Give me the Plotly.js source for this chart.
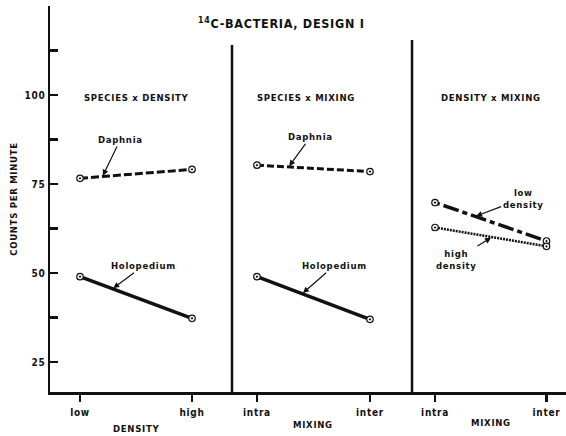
<!DOCTYPE html>
<html>
<head>
<meta charset="utf-8">
<script src="https://cdn.plot.ly/plotly-3.0.1.min.js"></script>
<style>
html,body{margin:0;padding:0;background:#fff;}
#chart{width:566px;height:436px;}
svg text{letter-spacing:0.7px;}
</style>
</head>
<body>
<div id="chart"></div>
<script>
// ---- data ----
const densityLevels = ['low', 'high'];
const mixingLevels = ['intra', 'inter'];
const yTickVals = [25, 37.5, 50, 62.5, 75, 87.5, 100, 112.5];
const yTickText = ['25', ' ', '50', ' ', '75', ' ', '100', ' '];

// Panel 1: Species x Density
const p1Daphnia = [76.6, 79.1];
const p1Holopedium = [49.0, 37.3];
// Panel 2: Species x Mixing
const p2Daphnia = [80.3, 78.5];
const p2Holopedium = [49.0, 37.0];
// Panel 3: Density x Mixing
const p3LowDensity = [69.8, 59.0];
const p3HighDensity = [62.8, 57.5];

const panelTitles = ['SPECIES x DENSITY', 'SPECIES x MIXING', 'DENSITY x MIXING'];
const axisTitles = ['DENSITY', 'MIXING', 'MIXING'];

// ---- styling ----
const ink = '#111';
const FONT = '"DejaVu Sans Condensed", "DejaVu Sans", "Liberation Sans Narrow", sans-serif';
const f = (size) => ({family: FONT, size: size, color: ink, weight: 'bold'});

const idx = [0, 1];
const marker = {symbol: 'circle-dot', size: 6.5, color: '#fff', line: {color: ink, width: 1.2}};

function tr(xa, ys, dash, width) {
  return {
    x: idx, y: ys, xaxis: xa, yaxis: 'y', type: 'scatter', mode: 'lines+markers',
    line: {color: ink, width: width, dash: dash}, marker: marker,
    hoverinfo: 'skip', showlegend: false
  };
}

const traces = [
  tr('x', p1Daphnia, '8px,3px', 3),
  tr('x', p1Holopedium, 'solid', 3.5),
  tr('x2', p2Daphnia, '7px,3px', 3),
  tr('x2', p2Holopedium, 'solid', 3.5),
  tr('x3', p3LowDensity, '5px,4px,16px,4px', 3.5),
  tr('x3', p3HighDensity, '2px,1px', 2.5)
];

function lerp(arr, t) { return arr[0] + (arr[1] - arr[0]) * t; }

function xAxis(domain, range, ticktext) {
  return {
    domain: domain, range: range, tickvals: idx, ticktext: ticktext,
    showline: true, linecolor: ink, linewidth: 2.5, mirror: false,
    ticks: 'outside', ticklen: 7, tickwidth: 2.5, tickcolor: ink,
    ticklabelstandoff: 2,
    showgrid: false, zeroline: false, fixedrange: true,
    tickfont: f(10), anchor: 'y'
  };
}

const layout = {
  width: 566, height: 436,
  margin: {l: 50, r: 0, t: 6, b: 44},
  paper_bgcolor: '#fff', plot_bgcolor: '#fff',
  title: {
    text: '<sup>14</sup>C-BACTERIA, DESIGN Ⅰ',
    font: f(12.5), x: 0.497, xanchor: 'center', y: 0.945, yanchor: 'middle'
  },
  xaxis: xAxis([0, 0.3527], [-0.268, 1.357], densityLevels),
  xaxis2: xAxis([0.3527, 0.7016], [-0.221, 1.372], mixingLevels),
  xaxis3: xAxis([0.7016, 1], [-0.206, 1.175], mixingLevels),
  yaxis: {
    domain: [0, 1], range: [16.6, 125],
    tickvals: yTickVals, ticktext: yTickText,
    showline: true, linecolor: ink, linewidth: 2.5,
    ticks: 'inside', ticklen: 8, tickwidth: 2.5, tickcolor: ink,
    showgrid: false, zeroline: false, fixedrange: true,
    tickfont: f(10),
    title: {text: 'COUNTS PER MINUTE', font: f(9.5), standoff: 6}
  },
  shapes: [
    {type: 'line', xref: 'paper', yref: 'paper', x0: 0.3527, x1: 0.3527, y0: 0, y1: 0.899,
     line: {color: ink, width: 2.5}},
    {type: 'line', xref: 'paper', yref: 'paper', x0: 0.7016, x1: 0.7016, y0: 0, y1: 0.912,
     line: {color: ink, width: 2.5}}
  ],
  annotations: []
};

// panel headers
const headerX = [0.5, 0.43, 0.5];
['x', 'x2', 'x3'].forEach((xa, i) => {
  layout.annotations.push({
    text: panelTitles[i], xref: xa, yref: 'y', x: headerX[i], y: 99.3,
    showarrow: false, font: f(9.5), xanchor: 'center', yanchor: 'middle'
  });
  layout.annotations.push({
    text: axisTitles[i], xref: xa, yref: 'paper', x: 0.5, y: [-0.095, -0.083, -0.078][i],
    showarrow: false, font: f(9.5), xanchor: 'center', yanchor: 'middle'
  });
});

// series labels with arrows
function label(xa, text, t, arr, ax, ay) {
  layout.annotations.push({
    text: text, xref: xa, yref: 'y', x: t, y: lerp(arr, t),
    showarrow: true, arrowhead: 2, arrowsize: 1, arrowwidth: 1.2, arrowcolor: ink,
    ax: ax, ay: ay, standoff: 1, font: f(9.5), align: 'center'
  });
}
label('x', 'Daphnia', 0.2, p1Daphnia, 18, -37);
label('x', 'Holopedium', 0.29, p1Holopedium, 31, -23);
label('x2', 'Daphnia', 0.28, p2Daphnia, 22, -30);
label('x2', 'Holopedium', 0.4, p2Holopedium, 32, -28);
label('x3', 'low<br>density', 0.36, p3LowDensity, 48, -18);
label('x3', 'high<br>density', 0.51, p3HighDensity, -35, 22);

Plotly.newPlot('chart', traces, layout, {staticPlot: true, displayModeBar: false});
</script>
</body>
</html>
